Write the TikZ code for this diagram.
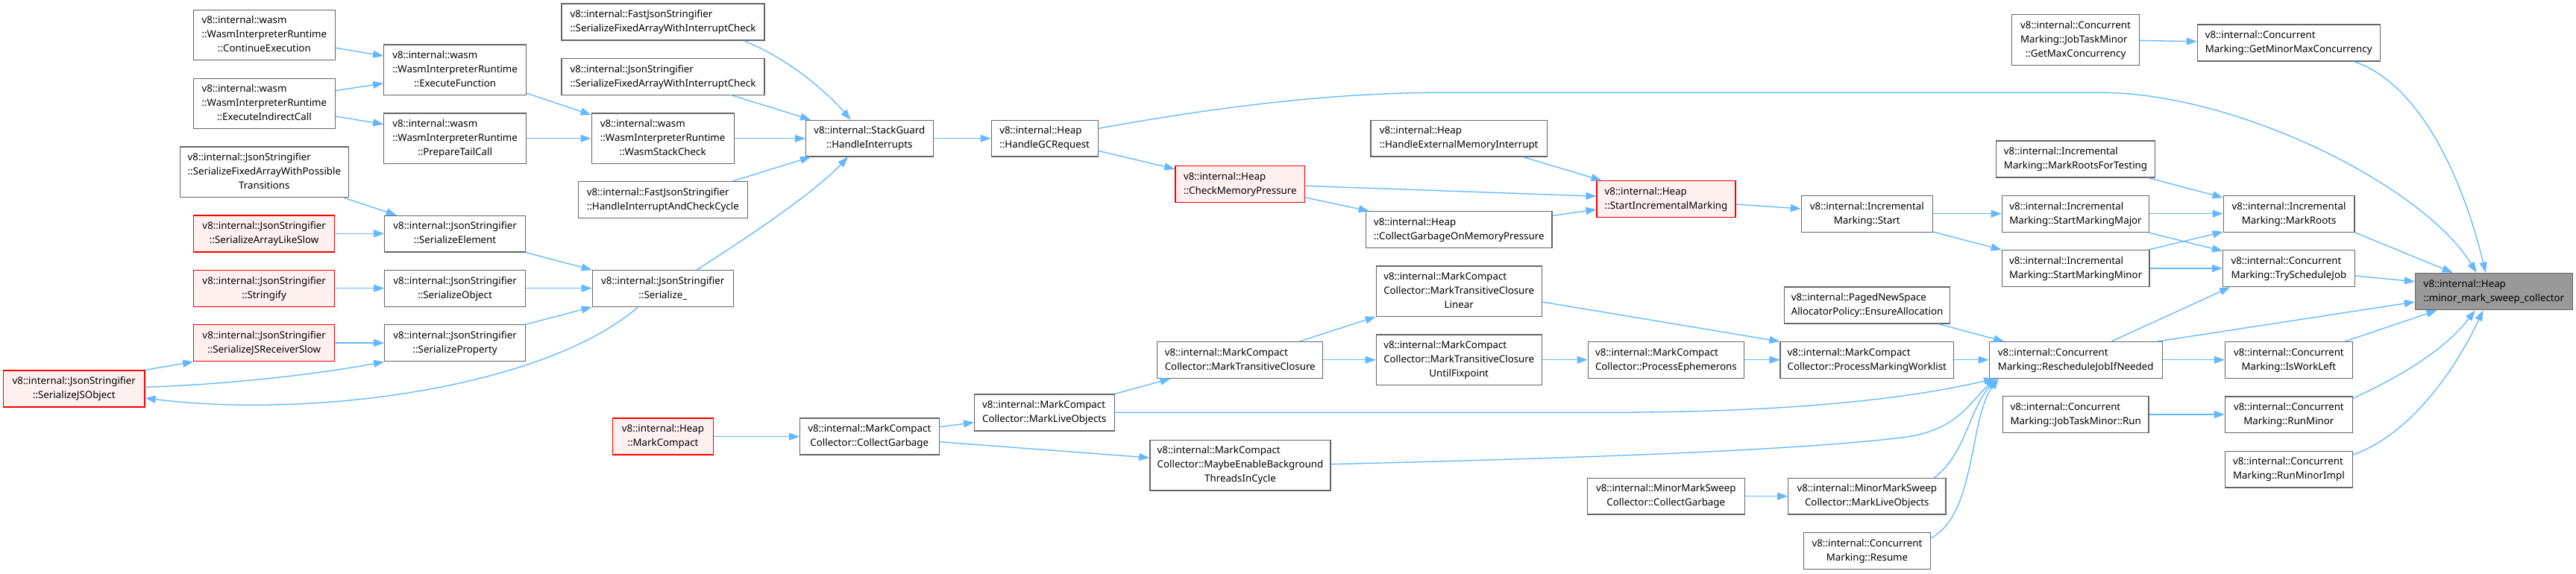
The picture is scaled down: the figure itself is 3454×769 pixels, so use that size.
\documentclass[tikz,border=0pt]{standalone}
\usepackage{fontspec}
\setmainfont{Noto Sans}
\usetikzlibrary{arrows.meta}
\definecolor{edgeblue}{HTML}{63B8FF}
\definecolor{boxgray}{HTML}{666666}
\definecolor{redfill}{HTML}{FFF0F0}
\definecolor{mainfill}{HTML}{999999}
\newcommand\twoL[2]{\begin{tabular}{@{}l@{}}#1\\\multicolumn{1}{@{}c@{}}{#2}\end{tabular}}
\newcommand\threeL[3]{\begin{tabular}{@{}l@{}}#1\\#2\\\multicolumn{1}{@{}c@{}}{#3}\end{tabular}}
\newcommand\fn[7]{\node[#1, minimum width={(#5-#3)*1pt}, minimum height={(#6-#4)*1pt}] (#2) at ({(#3+#5)/2},{(#4+#6)/2}) {#7};}
\tikzset{
  fnbox/.style={draw=boxgray, fill=white, line width=1.2pt, rectangle, inner sep=0pt, font=\fontsize{13.3}{19}\selectfont},
  redbox/.style={fnbox, draw=red, fill=redfill},
  mainbox/.style={fnbox, fill=mainfill},
  arr/.style={draw=edgeblue, line width=1.33pt, -{Triangle[length=14pt,width=10pt]}}
}
\begin{document}
\begin{tikzpicture}[x=1pt,y=-1pt]
\useasboundingbox (0,0) rectangle (3454,769);
\fill[white] (0,0) rectangle (3454,769);
% nodes
\fn{redbox}{sjo}{4.6}{497}{194}{546}{\twoL{v8::internal::JsonStringifier}{::SerializeJSObject}}
\fn{fnbox}{ce}{259.1}{13.3}{449.6}{80.7}{\threeL{v8::internal::wasm}{::WasmInterpreterRuntime}{::ContinueExecution}}
\fn{fnbox}{eic}{259.1}{105.3}{449.6}{172.7}{\threeL{v8::internal::wasm}{::WasmInterpreterRuntime}{::ExecuteIndirectCall}}
\fn{fnbox}{sfawpt}{241.5}{197}{467.2}{264.7}{\threeL{v8::internal::JsonStringifier}{::SerializeFixedArrayWithPossible}{Transitions}}
\fn{redbox}{sals}{259.8}{289}{448.5}{338}{\twoL{v8::internal::JsonStringifier}{::SerializeArrayLikeSlow}}
\fn{redbox}{str}{259.8}{362.7}{448.5}{411.3}{\twoL{v8::internal::JsonStringifier}{::Stringify}}
\fn{redbox}{sjrs}{259.8}{435.7}{448.5}{484.7}{\twoL{v8::internal::JsonStringifier}{::SerializeJSReceiverSlow}}
\fn{fnbox}{ef}{514.7}{60}{705.5}{127.3}{\threeL{v8::internal::wasm}{::WasmInterpreterRuntime}{::ExecuteFunction}}
\fn{fnbox}{ptc}{514.7}{152}{705.5}{219.3}{\threeL{v8::internal::wasm}{::WasmInterpreterRuntime}{::PrepareTailCall}}
\fn{fnbox}{se}{515.8}{289.3}{704.4}{338}{\twoL{v8::internal::JsonStringifier}{::SerializeElement}}
\fn{fnbox}{so}{515.8}{362.7}{704.4}{411.3}{\twoL{v8::internal::JsonStringifier}{::SerializeObject}}
\fn{fnbox}{sp}{515.8}{435.7}{704.4}{484.7}{\twoL{v8::internal::JsonStringifier}{::SerializeProperty}}
\fn{fnbox}{fsfa}{753}{5}{1025}{54}{\twoL{v8::internal::FastJsonStringifier}{::SerializeFixedArrayWithInterruptCheck}}
\fn{fnbox}{jsfa}{753}{78.7}{1025}{127.3}{\twoL{v8::internal::JsonStringifier}{::SerializeFixedArrayWithInterruptCheck}}
\fn{fnbox}{wsc}{793.1}{152}{984.1}{219.3}{\threeL{v8::internal::wasm}{::WasmInterpreterRuntime}{::WasmStackCheck}}
\fn{fnbox}{hicc}{775.5}{243.7}{1002.1}{292.7}{\twoL{v8::internal::FastJsonStringifier}{::HandleInterruptAndCheckCycle}}
\fn{fnbox}{ser}{794.3}{362.7}{983.3}{411.3}{\twoL{v8::internal::JsonStringifier}{::Serialize\_}}
\fn{redbox}{mc}{821.8}{561}{956.2}{610}{\twoL{v8::internal::Heap}{::MarkCompact}}
\fn{fnbox}{hi}{1080.5}{161.3}{1251.1}{210}{\twoL{v8::internal::StackGuard}{::HandleInterrupts}}
\fn{fnbox}{cg}{1072.5}{561}{1259.1}{610}{\twoL{v8::internal::MarkCompact}{Collector::CollectGarbage}}
\fn{fnbox}{hgc}{1329.1}{161.3}{1472.2}{210}{\twoL{v8::internal::Heap}{::HandleGCRequest}}
\fn{fnbox}{mlo}{1306.6}{529}{1494.1}{578}{\twoL{v8::internal::MarkCompact}{Collector::MarkLiveObjects}}
\fn{redbox}{cmp}{1575.9}{222.3}{1749.7}{271.3}{\twoL{v8::internal::Heap}{::CheckMemoryPressure}}
\fn{fnbox}{mtc}{1551.8}{458.7}{1773.7}{507.3}{\twoL{v8::internal::MarkCompact}{Collector::MarkTransitiveClosure}}
\fn{fnbox}{mebt}{1541.9}{590.3}{1784}{658}{\threeL{v8::internal::MarkCompact}{Collector::MaybeEnableBackground}{ThreadsInCycle}}
\fn{fnbox}{hemi}{1838}{161.3}{2074.4}{210}{\twoL{v8::internal::Heap}{::HandleExternalMemoryInterrupt}}
\fn{fnbox}{cgomp}{1831.5}{283.7}{2081}{332.3}{\twoL{v8::internal::Heap}{::CollectGarbageOnMemoryPressure}}
\fn{fnbox}{mtcl}{1845.2}{357}{2067.2}{424.3}{\threeL{v8::internal::MarkCompact}{Collector::MarkTransitiveClosure}{Linear}}
\fn{fnbox}{mtcu}{1845.2}{449}{2067.2}{516.7}{\threeL{v8::internal::MarkCompact}{Collector::MarkTransitiveClosure}{UntilFixpoint}}
\fn{redbox}{sim}{2141}{242.7}{2327}{291.3}{\twoL{v8::internal::Heap}{::StartIncrementalMarking}}
\fn{fnbox}{pe}{2129.2}{458.7}{2338.5}{507.3}{\twoL{v8::internal::MarkCompact}{Collector::ProcessEphemerons}}
\fn{fnbox}{mmscg}{2128.4}{641.3}{2339.1}{690}{\twoL{v8::internal::MinorMarkSweep}{Collector::CollectGarbage}}
\fn{fnbox}{ims}{2415.3}{262.3}{2591.3}{311.3}{\twoL{v8::internal::Incremental}{Marking::Start}}
\fn{fnbox}{ea}{2392.7}{385}{2614.3}{434}{\twoL{v8::internal::PagedNewSpace}{AllocatorPolicy::EnsureAllocation}}
\fn{fnbox}{pmw}{2387}{458.7}{2619.6}{507.3}{\twoL{v8::internal::MarkCompact}{Collector::ProcessMarkingWorklist}}
\fn{fnbox}{mmslo}{2397.7}{641.3}{2608.9}{690}{\twoL{v8::internal::MinorMarkSweep}{Collector::MarkLiveObjects}}
\fn{fnbox}{res}{2418.3}{714.7}{2588.6}{763.3}{\twoL{v8::internal::Concurrent}{Marking::Resume}}
\fn{fnbox}{jtgmc}{2697.7}{19.3}{2868.3}{87.3}{\threeL{v8::internal::Concurrent}{Marking::JobTaskMinor}{::GetMaxConcurrency}}
\fn{fnbox}{mrft}{2676.6}{189}{2889.4}{238}{\twoL{v8::internal::Incremental}{Marking::MarkRootsForTesting}}
\fn{fnbox}{smmaj}{2684.3}{262.3}{2881.7}{311.3}{\twoL{v8::internal::Incremental}{Marking::StartMarkingMajor}}
\fn{fnbox}{smmin}{2684.3}{335.7}{2882}{384.7}{\twoL{v8::internal::Incremental}{Marking::StartMarkingMinor}}
\fn{fnbox}{rj}{2667.1}{458.7}{2899.3}{507.3}{\twoL{v8::internal::Concurrent}{Marking::RescheduleJobIfNeeded}}
\fn{fnbox}{jtr}{2685.4}{531.7}{2881}{580.7}{\twoL{v8::internal::Concurrent}{Marking::JobTaskMinor::Run}}
\fn{fnbox}{gmmc}{2946.3}{33}{3191.1}{82}{\twoL{v8::internal::Concurrent}{Marking::GetMinorMaxConcurrency}}
\fn{fnbox}{mr}{2981.3}{262.3}{3156.9}{311.3}{\twoL{v8::internal::Incremental}{Marking::MarkRoots}}
\fn{fnbox}{tsj}{2980.6}{335.7}{3157.2}{384.7}{\twoL{v8::internal::Concurrent}{Marking::TryScheduleJob}}
\fn{fnbox}{iwl}{2983.4}{458.7}{3154.4}{507.3}{\twoL{v8::internal::Concurrent}{Marking::IsWorkLeft}}
\fn{fnbox}{rm}{2983.4}{532}{3154.4}{580.7}{\twoL{v8::internal::Concurrent}{Marking::RunMinor}}
\fn{fnbox}{rmi}{2983.4}{605.3}{3154.4}{654}{\twoL{v8::internal::Concurrent}{Marking::RunMinorImpl}}
\fn{mainbox}{mainn}{3238.5}{366.3}{3449.4}{415.7}{\twoL{v8::internal::Heap}{::minor\_mark\_sweep\_collector}}
% edges
\draw[arr] (ce.east |- 0,64.3) -- (ef.west |- 0,75);
\draw[arr] (eic.east |- 0,121.7) -- (ef.west |- 0,111.7);
\draw[arr] (eic.east |- 0,156) -- (ptc.west |- 0,166.7);
\draw[arr] (sfawpt.south -| 461.1,0) -- (se.north -| 531.9,0);
\draw[arr] (sals.east |- 0,313.3) -- (se.west |- 0,313.3);
\draw[arr] (str.east |- 0,386.7) -- (so.west |- 0,386.7);
\draw[arr] (sjrs.east |- 0,460) -- (sp.west |- 0,460);
\draw[arr] (sjo.north east) -- (sjrs.south west);
\draw[arr] (sjo.east |- 0,519.3) .. controls (300,516) and (420,503) .. (sp.south west);
\draw[arr] (ser.south -| 855.5,0) .. controls (730,520) and (420,562) .. (sjo.east |- 0,534);
\draw[arr] (ef.east |- 0,125) -- (wsc.west |- 0,154);
\draw[arr] (ptc.east |- 0,185.7) -- (wsc.west |- 0,185.7);
\draw[arr] (se.south east) -- (ser.north west);
\draw[arr] (so.east |- 0,386.7) -- (ser.west |- 0,386.7);
\draw[arr] (sp.north east) -- (ser.south west);
\draw[arr] (fsfa.south -| 997.1,0) .. controls (1060,80) and (1110,125) .. (hi.north -| 1140.6,0);
\draw[arr] (jsfa.south -| 981.8,0) -- (hi.north -| 1087,0);
\draw[arr] (wsc.east |- 0,185.7) -- (hi.west |- 0,185.7);
\draw[arr] (hicc.north -| 981.8,0) -- (hi.south -| 1087,0);
\draw[arr] (ser.north -| 934,0) .. controls (1000,320) and (1090,260) .. (hi.south -| 1137,0);
\draw[arr] (hi.east |- 0,185.7) -- (hgc.west |- 0,185.7);
\draw[arr] (hgc.east |- 0,202.3) -- (cmp.west |- 0,226.7);
\draw[arr] (hgc.east |- 0,172.3) .. controls (1650,140) and (1800,124.3) .. (1931,124.3) -- (2817,124.3) .. controls (3000,124.3) and (3250,250) .. (mainn.north -| 3320.5,0);
\draw[arr] (cmp.east |- 0,249.3) -- (sim.west |- 0,263.3);
\draw[arr] (cmp.east |- 0,265) -- (cgomp.north -| 1835.7,0);
\draw[arr] (hemi.south -| 2042.3,0) -- (sim.north -| 2147.5,0);
\draw[arr] (cgomp.east |- 0,289.3) -- (sim.west |- 0,281);
\draw[arr] (sim.east |- 0,274) -- (ims.west |- 0,280);
\draw[arr] (ims.east |- 0,286.7) -- (smmaj.west |- 0,286.7);
\draw[arr] (ims.east |- 0,311) -- (smmin.north west);
\draw[arr] (mrft.south -| 2880.6,0) -- (mr.west |- 0,265);
\draw[arr] (smmaj.east |- 0,286.7) -- (mr.west |- 0,286.7);
\draw[arr] (smmaj.south -| 2880.6,0) -- (tsj.west |- 0,336.7);
\draw[arr] (smmin.north -| 2880.6,0) -- (mr.west |- 0,311);
\draw[arr] (smmin.east |- 0,360) -- (tsj.west |- 0,360);
\draw[arr] (jtgmc.east |- 0,54.3) -- (gmmc.west |- 0,55.7);
\draw[arr] (gmmc.south -| 3156.2,0) .. controls (3240,110) and (3300,230) .. (mainn.north -| 3332.8,0);
\draw[arr] (mr.south east) -- (mainn.north -| 3288.6,0);
\draw[arr] (tsj.east |- 0,370) -- (mainn.west |- 0,377.7);
\draw[arr] (rj.north -| 2830.8,0) -- (tsj.south -| 2990,0);
\draw[arr] (rj.north -| 2892.1,0) -- (mainn.west |- 0,405);
\draw[arr] (rj.east |- 0,482.7) -- (iwl.west |- 0,482.7);
\draw[arr] (iwl.north -| 3143.8,0) -- (mainn.south -| 3267.5,0);
\draw[arr] (jtr.east |- 0,556) -- (rm.west |- 0,556);
\draw[arr] (rm.east |- 0,534.3) .. controls (3240,495) and (3285,460) .. (mainn.south -| 3318.7,0);
\draw[arr] (rmi.east |- 0,610) .. controls (3240,580) and (3300,480) .. (mainn.south -| 3329.3,0);
\draw[arr] (ea.south -| 2599.3,0) -- (rj.north -| 2687.3,0);
\draw[arr] (pmw.east |- 0,482.7) -- (rj.west |- 0,482.7);
\draw[arr] (pe.east |- 0,482.7) -- (pmw.west |- 0,482.7);
\draw[arr] (mtcl.east |- 0,405) -- (pmw.north west);
\draw[arr] (mtc.north -| 1741.9,0) -- (mtcl.south west);
\draw[arr] (mtc.east |- 0,482.7) -- (mtcu.west |- 0,482.7);
\draw[arr] (mtcu.east |- 0,482.7) -- (pe.west |- 0,482.7);
\draw[arr] (mlo.north east) -- (mtc.south -| 1569.4,0);
\draw[arr] (mlo.east |- 0,553.3) -- (2150,553.3) .. controls (2400,553.3) and (2560,535) .. (rj.south -| 2674,0);
\draw[arr] (mebt.east |- 0,622.7) .. controls (2100,615) and (2400,605) .. (2550,587) .. controls (2625,578) and (2640,540) .. (rj.south -| 2676,0);
\draw[arr] (mmslo.north -| 2593.6,0) .. controls (2635,610) and (2640,550) .. (rj.south -| 2677,0);
\draw[arr] (res.east |- 0,721.7) .. controls (2650,690) and (2640,560) .. (rj.south -| 2680,0);
\draw[arr] (cg.east |- 0,572.7) -- (mlo.west |- 0,566.7);
\draw[arr] (cg.east |- 0,592.7) -- (mebt.west |- 0,614);
\draw[arr] (mc.east |- 0,585.7) -- (cg.west |- 0,585.7);
\draw[arr] (mmscg.east |- 0,665.7) -- (mmslo.west |- 0,665.7);
\end{tikzpicture}
\end{document}
